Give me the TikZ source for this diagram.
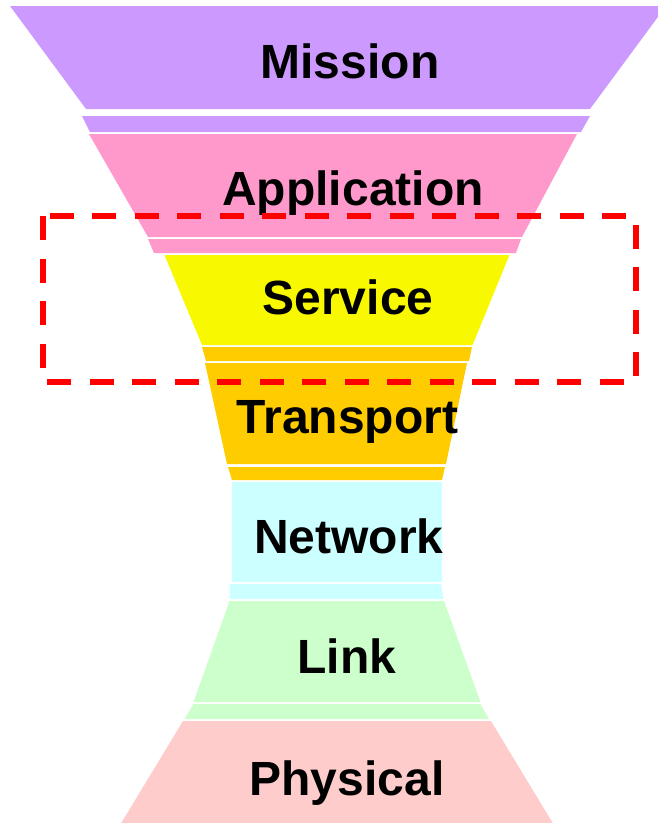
\documentclass[tikz,border=0pt]{standalone}
\usepackage{fontspec}
\setmainfont{Liberation Sans}
\usetikzlibrary{positioning}
\definecolor{missioncol}{HTML}{CC99FF}
\definecolor{appcol}{HTML}{FF99CC}
\definecolor{servicecol}{HTML}{F8F800}
\definecolor{transportcol}{HTML}{FFCC00}
\definecolor{networkcol}{HTML}{CCFFFF}
\definecolor{linkcol}{HTML}{CCFFCC}
\definecolor{physicalcol}{HTML}{FFCCCC}

\begin{document}
\begin{tikzpicture}[x=1pt,y=-1pt,
    layer/.style={font=\fontsize{48}{56}\selectfont\bfseries,anchor=base,inner sep=0pt},
    focus/.style={draw=red,line width=6.5pt,dash pattern=on 24pt off 18.5pt}]
    \useasboundingbox (0,0) rectangle (658,823);
    \clip (0,0) rectangle (658,823);
    % Main blocks of the stack
    \foreach \name/\col/\ya/\xa/\xb/\yb/\xc/\xd/\xt/\yt in {
        Mission/missioncol/6/10/666/109/86/590/350/78,
        Application/appcol/134/89/577/237/148/522/353/205,
        Service/servicecol/255/164.5/509.5/345/202/472.5/348/314,
        Transport/transportcol/363/205/467/464/227/446/347.5/433,
        Network/networkcol/482/232/442/582/232/442/349/553,
        Link/linkcol/601/229.5/444/702/193.5/480.5/347/673,
        Physical/physicalcol/721/183/491/830/117/557/347/795} {
        \fill[\col] (\xa,\ya) -- (\xb,\ya) -- (\xd,\yb) -- (\xc,\yb) -- cycle;
        \node[layer] (\name) at (\xt,\yt) {\name};
    }
    % Thin bands between blocks
    \foreach \col/\ya/\xa/\xb/\yb/\xc/\xd in {
        missioncol/116/82/590/132/90/581,
        appcol/239/148/521/253/154/516,
        transportcol/347/202/472/361/206/469,
        transportcol/467/228/445/480/232/442,
        networkcol/584/230/441/599/229.5/443.5,
        linkcol/704/193.5/480.5/719/184.6/489} {
        \fill[\col] (\xa,\ya) -- (\xb,\ya) -- (\xd,\yb) -- (\xc,\yb) -- cycle;
    }
    % Highlight box
    \draw[focus] (43,216) rectangle (636,382);
\end{tikzpicture}
\end{document}
